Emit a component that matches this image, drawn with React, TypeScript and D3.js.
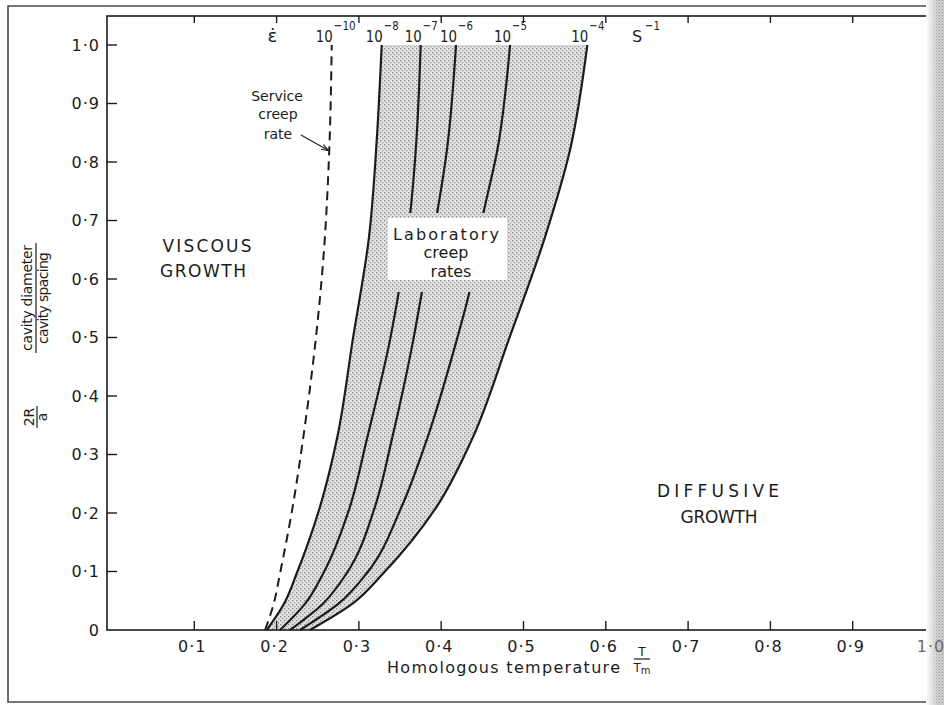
import React from 'react';
import * as d3 from 'd3';

const W = 944;
const H = 705;

// Axis ticks and their labels
const yTicks = [0, 0.1, 0.2, 0.3, 0.4, 0.5, 0.6, 0.7, 0.8, 0.9, 1.0];
const yTickLabels = ['0', '0·1', '0·2', '0·3', '0·4', '0·5', '0·6', '0·7', '0·8', '0·9', '1·0'];
const xTicks = [0.1, 0.2, 0.3, 0.4, 0.5, 0.6, 0.7, 0.8, 0.9];
const xTickLabels = ['0·1', '0·2', '0·3', '0·4', '0·5', '0·6', '0·7', '0·8', '0·9'];
const xEdgeTick = 1.0;
const xEdgeLabel = '1·0';

// Boundary curves: [homologous temperature T/Tm, 2R/a]
const serviceRate: [number, number][] = [
  [0.186, 0], [0.1965, 0.045], [0.2042, 0.097], [0.2196, 0.211], [0.2325, 0.33],
  [0.2475, 0.496], [0.2576, 0.65], [0.264, 0.821], [0.267, 1.0],
];
const rate1e8: [number, number][] = [
  [0.188, 0], [0.209, 0.045], [0.2245, 0.097], [0.2528, 0.211], [0.2738, 0.33],
  [0.2925, 0.496], [0.3123, 0.672], [0.3217, 0.838], [0.3277, 1.0],
];
const rate1e7: [number, number][] = [
  [0.2042, 0], [0.2347, 0.045], [0.2568, 0.097], [0.2892, 0.211], [0.3095, 0.325],
  [0.3378, 0.496], [0.3488, 0.581], [0.3621, 0.709], [0.3691, 0.821], [0.3751, 1.0],
];
const rate1e6: [number, number][] = [
  [0.2163, 0], [0.2563, 0.045], [0.2852, 0.097], [0.3196, 0.211], [0.3399, 0.325],
  [0.3661, 0.496], [0.3764, 0.576], [0.3946, 0.709], [0.407, 0.821], [0.418, 1.0],
];
const rate1e5: [number, number][] = [
  [0.2285, 0], [0.2752, 0.045], [0.3095, 0.097], [0.352, 0.211], [0.3824, 0.325],
  [0.4189, 0.496], [0.433, 0.57], [0.4512, 0.712], [0.4683, 0.821], [0.4837, 1.0],
];
const rate1e4: [number, number][] = [
  [0.2406, 0], [0.2922, 0.045], [0.3297, 0.097], [0.3946, 0.211], [0.4371, 0.325],
  [0.482, 0.496], [0.5262, 0.672], [0.5566, 0.821], [0.5776, 1.0],
];

// Strain-rate labels along the top edge
const rateExponents = ['−10', '−8', '−7', '−6', '−5', '−4'];
const rateCurves = [serviceRate, rate1e8, rate1e7, rate1e6, rate1e5, rate1e4];

const FONT = "'DejaVu Sans', sans-serif";
const INK = '#1c1c1c';

// Layout
const frame = { left: 107, top: 16, right: 928, bottom: 630 };
const x = d3.scaleLinear().domain([0, 1]).range([112, 935]);
const y = d3.scaleLinear().domain([0, 1]).range([630, 45]);

const line = d3
  .line<[number, number]>()
  .x((d) => x(d[0]))
  .y((d) => y(d[1]))
  .curve(d3.curveMonotoneY);

export default function App() {
  const left = line(rate1e8) as string;
  const right = line([...rate1e4].reverse()) as string;
  const bandPath = left + 'L' + right.slice(1) + 'Z';

  const labelBox = { x0: 388, x1: 507, y0: 218, y1: 280 };
  const gapClip = `M0,0H${W}V${H}H0Z M384,213H514V292H384Z`;

  const arrowEnd: [number, number] = [x(0.2625), y(0.82)];

  return (
    <svg
      width={W}
      height={H}
      viewBox={`0 0 ${W} ${H}`}
      style={{ position: 'absolute', left: 0, top: 0, background: '#fff' }}
      fontFamily={FONT}
    >
      <defs>
        <pattern id="stipple" width="4" height="4" patternUnits="userSpaceOnUse">
          <rect width="4" height="4" fill="#e1e1e1" />
          <rect x="0" y="0" width="1.3" height="1.3" fill="#8a8a8a" />
          <rect x="2" y="2" width="1.3" height="1.3" fill="#9e9e9e" />
        </pattern>
        <pattern id="edgeGrain" width="3" height="3" patternUnits="userSpaceOnUse">
          <rect width="3" height="3" fill="#cfcfcf" />
          <rect x="0" y="0" width="1" height="1" fill="#9a9a9a" />
          <rect x="1.5" y="1.5" width="1" height="1" fill="#b0b0b0" />
        </pattern>
        <linearGradient id="edgeFade" x1="0" x2="1" y1="0" y2="0">
          <stop offset="0" stopColor="#fff" stopOpacity="1" />
          <stop offset="1" stopColor="#fff" stopOpacity="0" />
        </linearGradient>
        <clipPath id="labelGap">
          <path d={gapClip} clipRule="evenodd" />
        </clipPath>
        <marker id="arrowHead" viewBox="0 0 10 10" refX="9" refY="5" markerWidth="7" markerHeight="7" orient="auto">
          <path d="M0,1.5L10,5L0,8.5" fill="none" stroke={INK} strokeWidth="1.4" />
        </marker>
      </defs>

      {/* Outer border */}
      <path d={`M940,6H8V702H940`} fill="none" stroke="#4a4a4a" strokeWidth={1.6} />

      {/* Laboratory creep-rate band */}
      <path d={bandPath} fill="url(#stipple)" />
      <rect
        x={labelBox.x0}
        y={labelBox.y0}
        width={labelBox.x1 - labelBox.x0}
        height={labelBox.y1 - labelBox.y0}
        fill="#fff"
      />

      {/* Plot frame */}
      <rect
        x={frame.left}
        y={frame.top}
        width={frame.right - frame.left}
        height={frame.bottom - frame.top}
        fill="none"
        stroke={INK}
        strokeWidth={1.6}
      />

      {/* Y ticks */}
      {yTicks.map((t, i) => (
        <g key={`y${i}`}>
          {t > 0 && <line x1={frame.left} x2={frame.left + 10} y1={y(t)} y2={y(t)} stroke={INK} strokeWidth={1.4} />}
          <text x={100} y={y(t)} dy="0.36em" textAnchor="end" fontSize={16} fill={INK} letterSpacing={1}>
            {yTickLabels[i]}
          </text>
        </g>
      ))}

      {/* X ticks, bottom and top */}
      {xTicks.map((t, i) => (
        <g key={`x${i}`}>
          <line x1={x(t)} x2={x(t)} y1={frame.bottom} y2={frame.bottom - 9} stroke={INK} strokeWidth={1.4} />
          <line x1={x(t)} x2={x(t)} y1={frame.top} y2={frame.top + 7} stroke={INK} strokeWidth={1.4} />
          <text x={x(t) - 2} y={652} textAnchor="middle" fontSize={16} fill={INK} letterSpacing={1}>
            {xTickLabels[i]}
          </text>
        </g>
      ))}

      {/* Boundary curves */}
      <path d={line(serviceRate) as string} fill="none" stroke={INK} strokeWidth={2} strokeDasharray="9 6" />
      <path d={line(rate1e8) as string} fill="none" stroke={INK} strokeWidth={2.2} />
      <g clipPath="url(#labelGap)">
        <path d={line(rate1e7) as string} fill="none" stroke={INK} strokeWidth={2.2} />
        <path d={line(rate1e6) as string} fill="none" stroke={INK} strokeWidth={2.2} />
        <path d={line(rate1e5) as string} fill="none" stroke={INK} strokeWidth={2.2} />
      </g>
      <path d={line(rate1e4) as string} fill="none" stroke={INK} strokeWidth={2.2} />

      {/* Strain-rate labels */}
      <text x={x(0.195)} y={42} textAnchor="middle" fontSize={18} fill={INK}>
        ε̇
      </text>
      {rateCurves.map((c, i) => {
        const top = x(c[c.length - 1][0]);
        const exp = rateExponents[i];
        return (
          <g key={`r${i}`}>
            <text x={top + 1} y={42} textAnchor="end" fontSize={16} fill={INK} textLength={17} lengthAdjust="spacingAndGlyphs">
              10
            </text>
            <text
              x={top + 2}
              y={30}
              textAnchor="start"
              fontSize={13}
              fill={INK}
              textLength={exp.length * 7 + 1}
              lengthAdjust="spacingAndGlyphs"
            >
              {exp}
            </text>
          </g>
        );
      })}
      <text x={632} y={42} fontSize={16} fill={INK}>
        S
      </text>
      <text x={645} y={30} fontSize={13} fill={INK} textLength={15} lengthAdjust="spacingAndGlyphs">
        −1
      </text>

      {/* Annotations */}
      <g fontSize={14} fill={INK} textAnchor="middle">
        <text x={277} y={101}>Service</text>
        <text x={278} y={119}>creep</text>
        <text x={278} y={139}>rate</text>
      </g>
      <line
        x1={301}
        y1={135}
        x2={arrowEnd[0]}
        y2={arrowEnd[1]}
        stroke={INK}
        strokeWidth={1.1}
        markerEnd="url(#arrowHead)"
      />

      <g fontSize={16} fill={INK} textAnchor="middle">
        <text x={446} y={240} textLength={106} lengthAdjust="spacing">Laboratory</text>
        <text x={446} y={258}>creep</text>
        <text x={451} y={277}>rates</text>
      </g>

      <g fontSize={17} fill={INK} textAnchor="middle">
        <text x={207} y={252} textLength={89} lengthAdjust="spacing">VISCOUS</text>
        <text x={203} y={277} textLength={86} lengthAdjust="spacing">GROWTH</text>
        <text x={718} y={497} textLength={122} lengthAdjust="spacing">DIFFUSIVE</text>
        <text x={719} y={523} textLength={77} lengthAdjust="spacing">GROWTH</text>
      </g>

      {/* X axis title */}
      <text x={387} y={673} fontSize={16} fill={INK} textLength={233} lengthAdjust="spacing">
        Homologous temperature
      </text>
      <g fill={INK}>
        <text x={642} y={656} fontSize={12} textAnchor="middle">T</text>
        <line x1={634} x2={650} y1={659} y2={659} stroke={INK} strokeWidth={1.2} />
        <text x={642} y={672} fontSize={12} textAnchor="middle">
          T<tspan fontSize={10} dy={2}>m</tspan>
        </text>
      </g>

      {/* Y axis title */}
      <g transform="translate(36,298) rotate(-90)" fill={INK} fontSize={14}>
        <text x={0} y={-4} textAnchor="middle" textLength={106} lengthAdjust="spacing">cavity diameter</text>
        <line x1={-55} x2={55} y1={0} y2={0} stroke={INK} strokeWidth={1.2} />
        <text x={0} y={12} textAnchor="middle" textLength={92} lengthAdjust="spacing">cavity spacing</text>
      </g>
      <g transform="translate(37,417) rotate(-90)" fill={INK} fontSize={14}>
        <text x={0} y={-3} textAnchor="middle">2R</text>
        <line x1={-11} x2={11} y1={0} y2={0} stroke={INK} strokeWidth={1.2} />
        <text x={0} y={10} textAnchor="middle">a</text>
      </g>

      {/* Page edge shading */}
      <rect x={926} y={0} width={18} height={H} fill="url(#edgeGrain)" />
      <rect x={926} y={0} width={12} height={H} fill="url(#edgeFade)" />
      <text x={x(xEdgeTick) - 4} y={652} textAnchor="middle" fontSize={16} fill="#6a6a6a" letterSpacing={1}>
        {xEdgeLabel}
      </text>
    </svg>
  );
}
